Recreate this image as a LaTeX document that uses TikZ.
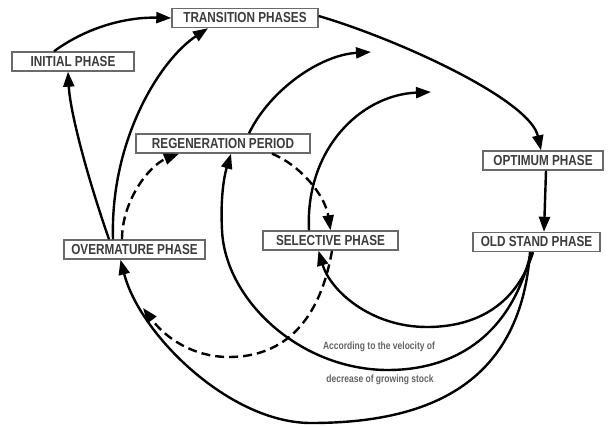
\documentclass[tikz,border=0pt]{standalone}
\usepackage{fontspec}
\newfontfamily\labfont[FakeStretch=0.81]{Liberation Sans}
\usetikzlibrary{arrows.meta}
\definecolor{txtgray}{HTML}{3C3C3C}
\definecolor{boxgray}{HTML}{6A6A6A}
\begin{document}
\begin{tikzpicture}[x=1pt,y=-1pt,
  phase/.style={draw=boxgray,line width=1.4pt,fill=white,inner sep=0pt,
    minimum height=19pt,text=txtgray,font=\labfont\bfseries\fontsize{14.5}{15}\selectfont},
  flow/.style={line width=2.4pt,-{Triangle[length=15pt,width=11pt]}},
  dflow/.style={flow,dash pattern=on 9pt off 5pt},
  note/.style={text=txtgray!80,font=\labfont\bfseries\fontsize{10.5}{11}\selectfont}]
\path[use as bounding box] (0,0) rectangle (609,427);

% nodes
\node[phase,minimum width=146pt] (TP) at (245,18) {TRANSITION PHASES};
\node[phase,minimum width=122pt] (IP) at (73,61.5) {INITIAL PHASE};
\node[phase,minimum width=174pt] (RP) at (223,143.5) {REGENERATION PERIOD};
\node[phase,minimum width=120pt] (OP) at (543,160.5) {OPTIMUM PHASE};
\node[phase,minimum width=127pt] (OS) at (536.5,242) {OLD STAND PHASE};
\node[phase,minimum width=135pt] (SP) at (330.5,240.5) {SELECTIVE PHASE};
\node[phase,minimum width=141pt] (OM) at (134.5,249.5) {OVERMATURE PHASE};

\node[note] (n1) at (379,347) {According to the velocity of};
\node[note] (n2) at (380,380) {decrease of growing stock};

% free ends
\coordinate (endA) at (431,92);
\coordinate (endB) at (371,52);
\coordinate (endD) at (143,308);

% connectors
\draw[flow] ([xshift=-19pt]IP.north) .. controls (90,25) and (130,17) .. (TP.west);
\draw[flow] ([xshift=-25.5pt]OM.north) .. controls (85,170) and (70,110) .. ([xshift=-5pt]IP.south);
\draw[flow] ([xshift=-21.5pt]OM.north) .. controls (110,140) and (160,60) .. ([xshift=-37pt]TP.south);
\draw[flow] ([yshift=2pt]TP.east) .. controls (400,40) and (530,100) .. ([xshift=-2pt]OP.north);
\draw[flow] ([xshift=3pt]OP.south) -- ([xshift=7.5pt]OS.north);

\draw[dflow] ([xshift=-12.5pt]OM.north) .. controls (122,200) and (150,165) .. ([xshift=-44pt]RP.south);
\draw[dflow] ([xshift=49pt]RP.south) .. controls (300,165) and (325,195) .. (SP.north);

% big arcs from old stand phase
\draw[flow] ([xshift=-6.5pt]OS.south) .. controls (520,390) and (420,423) .. (311,423)
   .. controls (230,423) and (140,335) .. ([xshift=-14pt]OM.south);
\draw[flow] ([xshift=-5.5pt]OS.south) .. controls (510,340) and (450,370) .. (388,370)
   .. controls (300,370) and (225,300) .. (222,230) .. controls (220,190) and (226,170) .. ([xshift=8pt]RP.south);
\draw[flow] ([xshift=-3.5pt]OS.south) .. controls (515,310) and (470,327) .. (427,327)
   .. controls (370,327) and (330,290) .. ([xshift=-12pt]SP.south);

\draw[dflow] ([xshift=1.5pt]SP.south) .. controls (320,320) and (285,357) .. (229,357)
   .. controls (192,357) and (165,337) .. (endD);

\draw[flow] ([xshift=-21.5pt]SP.north) .. controls (305,150) and (360,95) .. (endA);
\draw[flow] ([xshift=26pt]RP.north) .. controls (270,90) and (320,55) .. (endB);
\end{tikzpicture}
\end{document}
